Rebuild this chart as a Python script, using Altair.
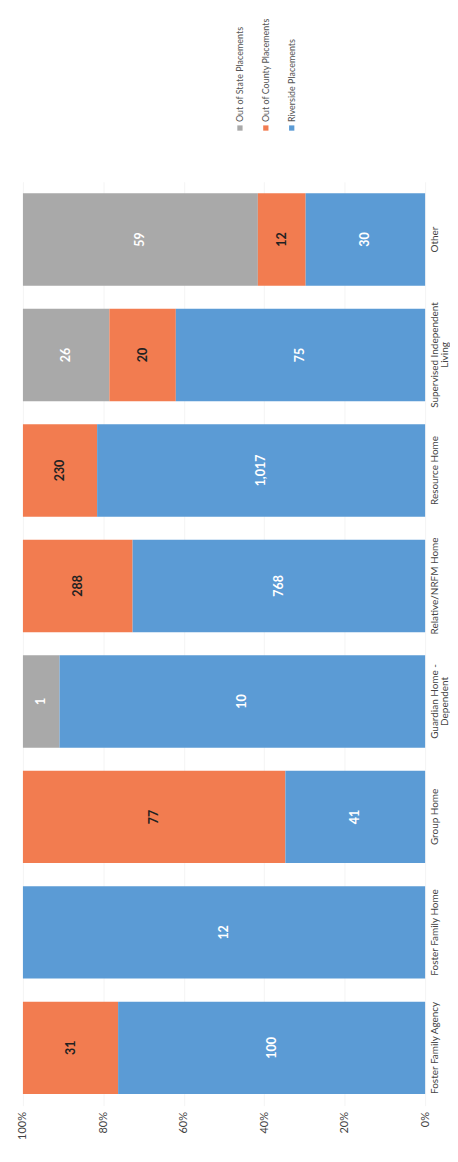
import altair as alt
import pandas as pd

# Categories listed top-to-bottom as they appear in the (rotated) picture
categories = [
    "Other",
    "Supervised Independent Living",
    "Resource Home",
    "Relative/NRFM Home",
    "Guardian Home - Dependent",
    "Group Home",
    "Foster Family Home",
    "Foster Family Agency",
]
riverside = [30, 75, 1017, 768, 10, 41, 12, 100]
out_of_county = [12, 20, 230, 288, 0, 77, 0, 31]
out_of_state = [59, 26, 0, 0, 1, 0, 0, 0]

series = ["Out of State Placements", "Out of County Placements", "Riverside Placements"]
colors = ["#A9A9A9", "#F27C50", "#5B9BD5"]
stack_rank = [2, 1, 0]
pct_ticks = [0, 0.2, 0.4, 0.6, 0.8, 1.0]

label_lines = {
    "Guardian Home - Dependent": ["Guardian Home -", "Dependent"],
    "Supervised Independent Living": ["Supervised Independent", "Living"],
}

rows = []
for i, cat in enumerate(categories):
    for s, rank, vals in zip(series, stack_rank, [out_of_state, out_of_county, riverside]):
        rows.append({"category": cat, "series": s, "rank": rank, "value": vals[i]})
df = pd.DataFrame(rows)

label_expr = " : ".join(
    [f"datum.label == '{k}' ? {v!r}" for k, v in label_lines.items()]
) + " : datum.label"

FONT = "Lato"

color_scale = alt.Scale(domain=series, range=colors)

base = alt.Chart(df).transform_stack(
    stack="value",
    groupby=["category"],
    as_=["x0", "x1"],
    offset="normalize",
    sort=[alt.SortField("rank", order="ascending")],
)

y_enc = alt.Y(
    "category:N",
    sort=categories,
    scale=alt.Scale(paddingInner=0.2, paddingOuter=0.1),
    axis=alt.Axis(
        orient="right",
        title=None,
        labelAngle=270,
        labelAlign="center",
        labelBaseline="top",
        labelExpr=label_expr,
        domain=False,
        ticks=False,
        labelPadding=4,
        labelFontSize=10,
        labelColor="#444444",
        labelFont=FONT,
        labelLineHeight=11,
    ),
)

x_scale = alt.Scale(domain=[0, 1], reverse=True, nice=False)

bars = base.mark_bar().encode(
    x=alt.X(
        "x0:Q",
        scale=x_scale,
        axis=alt.Axis(
            title=None,
            format=".0%",
            values=pct_ticks,
            labelAngle=270,
            labelAlign="right",
            labelBaseline="middle",
            domain=False,
            ticks=False,
            grid=True,
            gridColor="#F4F4F4",
            labelPadding=6,
            labelFontSize=11,
            labelColor="#444444",
            labelFont=FONT,
        ),
    ),
    x2="x1:Q",
    y=y_enc,
    color=alt.Color("series:N", scale=color_scale, legend=None),
)

texts = base.transform_filter("datum.value > 0").transform_calculate(
    mid="(datum.x0 + datum.x1) / 2"
).mark_text(angle=270, align="center", baseline="middle", fontSize=12.5,
            fontWeight="bold", font=FONT).encode(
    x=alt.X("mid:Q", scale=x_scale),
    y=alt.Y("category:N", sort=categories),
    text=alt.Text("value:Q", format=","),
    color=alt.condition(
        "datum.series == 'Out of County Placements'",
        alt.value("#222222"),
        alt.value("#FFFFFF"),
    ),
)

main = alt.layer(bars, texts).properties(width=404, height=928)

leg_df = pd.DataFrame({"series": series})
leg_x = alt.X("series:N", sort=series,
              scale=alt.Scale(type="point", range=[218, 270], padding=0), axis=None)
leg_sq = alt.Chart(leg_df).mark_square(size=28, opacity=1).encode(
    x=leg_x,
    y=alt.value(118),
    color=alt.Color("series:N", scale=color_scale, legend=None),
)
leg_tx = alt.Chart(leg_df).mark_text(angle=270, align="left", baseline="middle",
                                     fontSize=9, font=FONT, color="#555555").encode(
    x=leg_x,
    y=alt.value(112),
    text="series:N",
)
legend = alt.layer(leg_sq, leg_tx).properties(width=404, height=165)

chart = alt.vconcat(legend, main, spacing=7).configure_view(stroke=None).properties(
    padding={"left": 9, "top": 0, "right": 0, "bottom": 4}
)

chart.save("out.html", embed_options={"renderer": "svg", "actions": False})
